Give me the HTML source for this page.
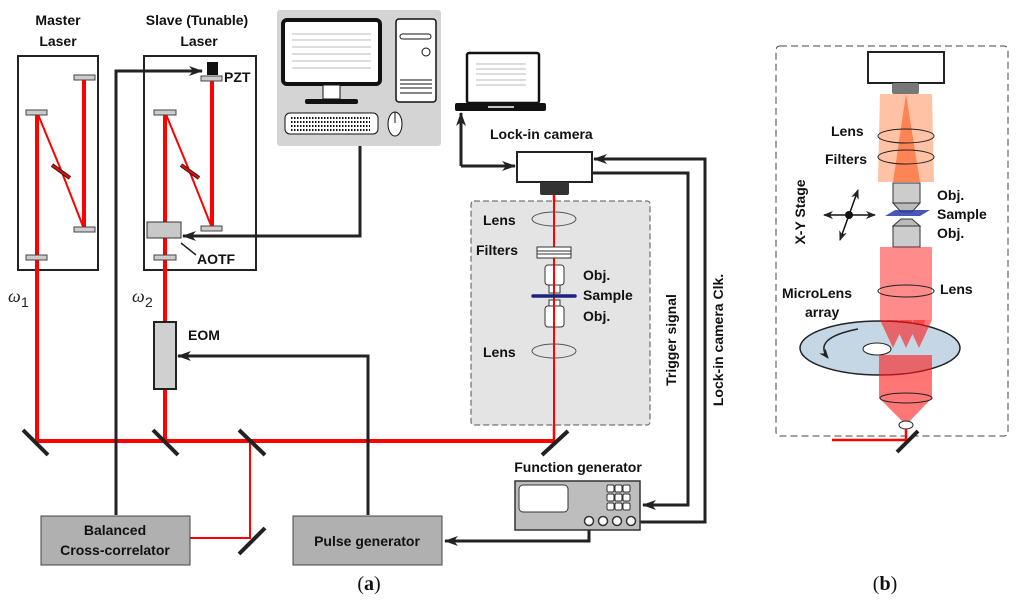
<!DOCTYPE html>
<html><head><meta charset="utf-8"><style>
html,body{margin:0;padding:0;background:#fff;}
svg{display:block;font-family:"Liberation Sans",sans-serif;}
.b{font-weight:bold;font-size:14px;fill:#111;}
</style></head><body>
<svg width="1024" height="605" viewBox="0 0 1024 605" xmlns="http://www.w3.org/2000/svg">
<defs>
<marker id="ah" markerWidth="14" markerHeight="10" refX="13" refY="5" orient="auto" markerUnits="userSpaceOnUse"><path d="M0,0 L14,5 L0,10 L4,5 Z" fill="#222"/></marker>
<marker id="ah2" markerWidth="10" markerHeight="8" refX="9" refY="4" orient="auto" markerUnits="userSpaceOnUse"><path d="M0,0 L10,4 L0,8 L3,4 Z" fill="#222"/></marker>
</defs>
<!-- Titles -->
<text class="b" x="58" y="25" text-anchor="middle" font-size="15">Master</text>
<text class="b" x="58" y="46" text-anchor="middle" font-size="15">Laser</text>
<text class="b" x="197" y="25" text-anchor="middle" font-size="15">Slave (Tunable)</text>
<text class="b" x="199" y="46" text-anchor="middle" font-size="15">Laser</text>
<!-- laser boxes -->
<rect x="18" y="56" width="80" height="214" fill="none" stroke="#222" stroke-width="2"/>
<rect x="144" y="56" width="112" height="214" fill="none" stroke="#222" stroke-width="2"/>
<g stroke="#f00" fill="none">
<line x1="37" y1="112" x2="37" y2="441" stroke-width="4"/>
<line x1="84" y1="77" x2="84" y2="229" stroke-width="4"/>
<polyline points="37,112 61,170 84,229" stroke-width="2"/>
<line x1="165" y1="112" x2="165" y2="441" stroke-width="4"/>
<line x1="212" y1="78" x2="212" y2="228" stroke-width="4"/>
<polyline points="165,112 189,170 212,228" stroke-width="2"/>
<line x1="37" y1="441" x2="555" y2="441" stroke-width="4"/>
<line x1="554" y1="195" x2="554" y2="441" stroke-width="2.5"/>
<polyline points="250,441 250,538 190,538" stroke-width="2"/>
</g>
<g fill="#ccc" stroke="#444" stroke-width="1">
<rect x="26" y="110" width="21" height="5"/><rect x="74" y="75" width="21" height="5"/>
<rect x="74" y="227" width="21" height="5"/><rect x="26" y="255" width="21" height="5"/>
<rect x="154" y="110" width="22" height="5"/><rect x="201" y="76" width="21" height="5"/>
<rect x="201" y="226" width="21" height="5"/><rect x="154" y="255" width="22" height="5"/>
</g>
<line x1="52" y1="165" x2="70" y2="178" stroke="#222" stroke-width="4"/><line x1="52" y1="165" x2="70" y2="178" stroke="#f00" stroke-width="2"/>
<line x1="181" y1="165" x2="199" y2="178" stroke="#222" stroke-width="4"/><line x1="181" y1="165" x2="199" y2="178" stroke="#f00" stroke-width="2"/>
<rect x="207" y="62" width="11" height="13" fill="#111"/>
<text class="b" x="224" y="82" font-size="15">PZT</text>
<rect x="147" y="222" width="34" height="16" fill="#c8c8c8" stroke="#333"/>
<line x1="181" y1="243" x2="196" y2="255" stroke="#222" stroke-width="1.5"/>
<text class="b" x="197" y="264" font-size="15">AOTF</text>
<!-- Computer -->
<rect x="277" y="10" width="164" height="136" rx="3" fill="#d4d4d4"/>
<rect x="283" y="20" width="97" height="64" rx="4" fill="#fff" stroke="#111" stroke-width="4"/>
<g stroke="#bbb" stroke-width="1"><line x1="292" y1="34" x2="371" y2="34"/><line x1="292" y1="40" x2="371" y2="40"/><line x1="292" y1="47" x2="371" y2="47"/><line x1="292" y1="54" x2="371" y2="54"/><line x1="292" y1="61" x2="371" y2="61"/><line x1="292" y1="68" x2="371" y2="68"/></g>
<rect x="323" y="85" width="17" height="14" fill="#fff" stroke="#111"/>
<rect x="305" y="99" width="53" height="5" rx="2" fill="#111"/>
<rect x="396" y="19" width="40" height="83" rx="3" fill="#fff" stroke="#111" stroke-width="1.5"/>
<rect x="400" y="34" width="31" height="5" rx="2.5" fill="none" stroke="#111"/>
<circle cx="426" cy="52" r="4" fill="none" stroke="#111"/>
<g stroke="#111"><line x1="400" y1="80" x2="432" y2="80"/><line x1="400" y1="84" x2="432" y2="84"/><line x1="400" y1="88" x2="432" y2="88"/><line x1="400" y1="93" x2="432" y2="93"/></g>
<rect x="285" y="113" width="93" height="21" rx="5" fill="#fff" stroke="#111"/>
<g stroke="#111" stroke-width="2" stroke-dasharray="1.5,1.5"><line x1="291" y1="118" x2="370" y2="118"/><line x1="291" y1="122" x2="370" y2="122"/><line x1="291" y1="126" x2="370" y2="126"/><line x1="291" y1="130" x2="370" y2="130"/></g>
<ellipse cx="395" cy="124" rx="7" ry="12" fill="#fff" stroke="#111"/>
<line x1="395" y1="112" x2="395" y2="123" stroke="#111"/>
<!-- control lines -->
<g stroke="#222" stroke-width="3" fill="none">
<polyline points="360,146 360,236 183,236" marker-end="url(#ah)"/>
<polyline points="116,515 116,71 202,71" marker-end="url(#ah)"/>
<polyline points="368,515 368,356 178,356" marker-end="url(#ah)"/>
<polyline points="589,525 589,541 445,541" marker-end="url(#ah)"/>
<polyline points="461,166 461,113" marker-end="url(#ah)"/>
<polyline points="461,166 515,166" marker-end="url(#ah)"/>
<polyline points="640,522 705,522 705,159 594,159" marker-end="url(#ah)"/>
<polyline points="592,173 688,173 688,505 643,505" marker-end="url(#ah)"/>
</g>
<text x="8" y="302" font-family="Liberation Serif,serif" font-style="italic" font-size="18" fill="#222">ω</text><text x="21" y="307" font-size="14" fill="#222">1</text>
<text x="132" y="302" font-family="Liberation Serif,serif" font-style="italic" font-size="18" fill="#222">ω</text><text x="145" y="307" font-size="14" fill="#222">2</text>
<rect x="154" y="322" width="22" height="67" fill="#d0d0d0" stroke="#222" stroke-width="2"/>
<text class="b" x="188" y="340" font-size="14">EOM</text>
<g stroke="#222" stroke-width="4">
<line x1="23" y1="430" x2="48" y2="455"/><line x1="153" y1="430" x2="178" y2="455"/>
<line x1="239" y1="430" x2="265" y2="455"/><line x1="239" y1="554" x2="265" y2="528"/>
<line x1="542" y1="455" x2="568" y2="431"/>
</g>
<rect x="41" y="516" width="149" height="49" fill="#b0b0b0" stroke="#444"/>
<text class="b" x="115" y="535" text-anchor="middle" font-size="15">Balanced</text>
<text class="b" x="115" y="555" text-anchor="middle" font-size="15">Cross-correlator</text>
<rect x="293" y="516" width="149" height="49" fill="#b0b0b0" stroke="#444"/>
<text class="b" x="367" y="546" text-anchor="middle" font-size="15">Pulse generator</text>
<text x="369" y="590" text-anchor="middle" font-family="Liberation Serif,serif" font-size="20" fill="#111">(<tspan font-weight="bold">a</tspan>)</text>
<text x="885" y="590" text-anchor="middle" font-family="Liberation Serif,serif" font-size="20" fill="#111">(<tspan font-weight="bold">b</tspan>)</text>
<!-- laptop -->
<rect x="467" y="53" width="72" height="50" rx="2" fill="#fff" stroke="#111" stroke-width="2.5"/>
<g stroke="#bbb"><line x1="476" y1="64" x2="526" y2="64"/><line x1="476" y1="69" x2="526" y2="69"/><line x1="476" y1="74" x2="526" y2="74"/><line x1="476" y1="80" x2="526" y2="80"/><line x1="476" y1="85" x2="526" y2="85"/></g>
<rect x="455" y="103" width="91" height="8" rx="2" fill="#111"/>
<line x1="488" y1="107" x2="514" y2="107" stroke="#fff" stroke-width="1.5"/>
<text class="b" x="490" y="139" font-size="14">Lock-in camera</text>
<rect x="517" y="152" width="75" height="30" fill="#fff" stroke="#222" stroke-width="2"/>
<rect x="540" y="182" width="29" height="13" rx="2" fill="#333"/>
<!-- sample box -->
<rect x="471" y="201" width="179" height="224" rx="3" fill="#e4e4e4" stroke="#555" stroke-dasharray="6,3"/>
<line x1="554" y1="195" x2="554" y2="425" stroke="#f00" stroke-width="2"/>
<ellipse cx="554" cy="219" rx="22" ry="7" fill="none" stroke="#555"/>
<ellipse cx="554" cy="351" rx="22" ry="7" fill="none" stroke="#555"/>
<rect x="537" y="247" width="34" height="11" fill="#fff" stroke="#333"/>
<g stroke="#333"><line x1="537" y1="251" x2="571" y2="251"/><line x1="537" y1="254" x2="571" y2="254"/></g>
<rect x="545" y="265" width="19" height="20" rx="3" fill="#fff" stroke="#333"/>
<rect x="549" y="285" width="11" height="8" fill="#fff" stroke="#333"/>
<rect x="549" y="300" width="11" height="6" fill="#fff" stroke="#333"/>
<rect x="545" y="306" width="19" height="21" rx="3" fill="#fff" stroke="#333"/>
<line x1="554" y1="265" x2="554" y2="327" stroke="#f00" stroke-width="2"/>
<line x1="533" y1="296" x2="575" y2="296" stroke="#1a237e" stroke-width="3.5" stroke-linecap="round"/>
<g class="b" font-size="14">
<text x="483" y="225">Lens</text><text x="476" y="255">Filters</text>
<text x="583" y="280">Obj.</text><text x="583" y="300">Sample</text><text x="583" y="321">Obj.</text>
<text x="483" y="357">Lens</text>
</g>
<text class="b" font-size="14" transform="translate(676,340) rotate(-90)" text-anchor="middle">Trigger signal</text>
<text class="b" font-size="14" transform="translate(723,340) rotate(-90)" text-anchor="middle">Lock-in camera Clk.</text>
<!-- function generator -->
<text class="b" x="578" y="472" text-anchor="middle" font-size="13">Function generator</text>
<rect x="515" y="481" width="125" height="49" fill="#bdbdbd" stroke="#333" stroke-width="1.5"/>
<rect x="519" y="485" width="49" height="27" rx="4" fill="#fff" stroke="#333"/>
<g fill="#fff" stroke="#333">
<rect x="607" y="485" width="7" height="7" rx="1.5"/><rect x="615" y="485" width="7" height="7" rx="1.5"/><rect x="623" y="485" width="7" height="7" rx="1.5"/>
<rect x="607" y="494" width="7" height="7" rx="1.5"/><rect x="615" y="494" width="7" height="7" rx="1.5"/><rect x="623" y="494" width="7" height="7" rx="1.5"/>
<rect x="607" y="503" width="7" height="7" rx="1.5"/><rect x="615" y="503" width="7" height="7" rx="1.5"/><rect x="623" y="503" width="7" height="7" rx="1.5"/>
<circle cx="589" cy="521" r="4.5" stroke-width="1.5"/><circle cx="603" cy="521" r="4.5" stroke-width="1.5"/><circle cx="617" cy="521" r="4.5" stroke-width="1.5"/><circle cx="631" cy="521" r="4.5" stroke-width="1.5"/>
</g>
<!-- Panel b -->
<rect x="776" y="46" width="232" height="390" rx="4" fill="none" stroke="#444" stroke-dasharray="7,4"/>
<rect x="868" y="52" width="76" height="31" fill="#fff" stroke="#222" stroke-width="2"/>
<rect x="892" y="83" width="27" height="11" rx="2" fill="#777"/>
<g fill="#ff7a3a" opacity="0.45">
<polygon points="880,94 878,182 934,182 932,94"/>
<polygon points="893,94 880,182 906,182"/><polygon points="906,94 893,182 919,182"/><polygon points="919,94 906,182 932,182"/>
</g>
<polygon points="893,182 920,182 906,94" fill="#ff5a20" opacity="0.6"/>
<ellipse cx="906" cy="136" rx="28" ry="7" fill="none" stroke="#222"/>
<ellipse cx="906" cy="157" rx="28" ry="7" fill="none" stroke="#222"/>
<rect x="893" y="183" width="27" height="20" fill="#ccc" stroke="#333"/>
<polygon points="893,203 920,203 912,212 901,212" fill="#bbb" stroke="#333"/>
<polygon points="885,216 895,210 930,210 920,216" fill="#2a3aa8" opacity="0.85"/>
<polygon points="901,219 912,219 920,226 893,226" fill="#bbb" stroke="#333"/>
<rect x="893" y="226" width="27" height="21" fill="#ccc" stroke="#333"/>
<g fill="#ff1a1a" opacity="0.5">
<polygon points="880,247 932,247 932,320 880,320"/>
<polygon points="880,291 893,345 906,291"/><polygon points="893,291 906,345 919,291"/><polygon points="906,291 919,345 932,291"/>
</g>
<ellipse cx="880" cy="348" rx="80" ry="27" fill="#c5d7e4" stroke="#222" stroke-width="1.5"/>
<ellipse cx="877" cy="349" rx="14" ry="6" fill="#fff" stroke="#222"/>
<path d="M858,329 Q812,338 828,358" fill="none" stroke="#222" stroke-width="1.5" marker-end="url(#ah2)"/>
<g fill="#ff1a1a" opacity="0.6">
<polygon points="880,320 893,348 906,320"/><polygon points="893,320 906,348 919,320"/><polygon points="906,320 919,348 932,320"/>
<polygon points="879,355 932,355 932,398 906,425 879,398"/>
</g>
<ellipse cx="906" cy="398" rx="26" ry="5" fill="none" stroke="#222"/>
<ellipse cx="906" cy="425" rx="7" ry="4" fill="#fff" stroke="#222"/>
<ellipse cx="906" cy="291" rx="28" ry="6" fill="none" stroke="#222"/>
<polyline points="832,440 906,440 906,429" fill="none" stroke="#f00" stroke-width="2.5"/>
<line x1="897" y1="452" x2="918" y2="431" stroke="#222" stroke-width="4"/>
<g class="b" font-size="14">
<text x="831" y="136">Lens</text><text x="825" y="164">Filters</text>
<text x="937" y="200">Obj.</text><text x="937" y="219">Sample</text><text x="937" y="238">Obj.</text>
<text x="940" y="294">Lens</text><text x="782" y="298">MicroLens</text><text x="805" y="317">array</text>
</g>
<text class="b" font-size="14" transform="translate(805,212) rotate(-90)" text-anchor="middle">X-Y Stage</text>
<g stroke="#111" stroke-width="1.5">
<line x1="849" y1="215" x2="824" y2="215" marker-end="url(#ah2)"/>
<line x1="849" y1="215" x2="875" y2="215" marker-end="url(#ah2)"/>
<line x1="849" y1="215" x2="858" y2="190" marker-end="url(#ah2)"/>
<line x1="849" y1="215" x2="840" y2="240" marker-end="url(#ah2)"/>
</g>
<circle cx="849" cy="215" r="4" fill="#111"/>
</svg>
</body></html>
